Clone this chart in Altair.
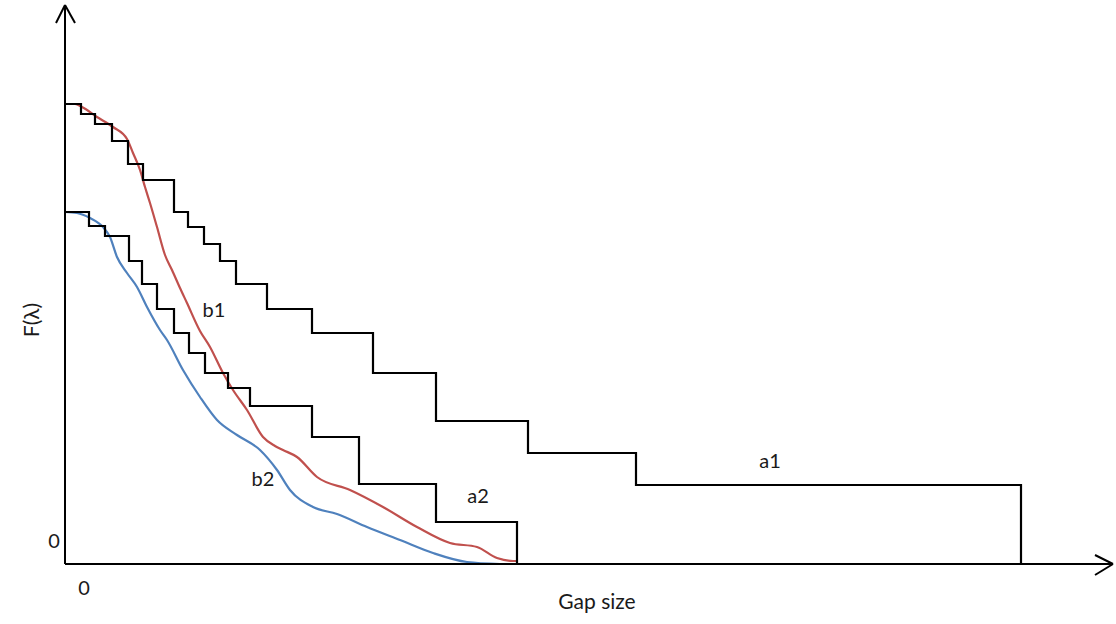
import altair as alt
import pandas as pd

# ---- data (gap size units on x, F(lambda) units on y) ----
a1_x = [0, 16, 30, 47, 63, 78, 109, 123, 139, 155, 171, 202, 247, 308, 371, 463, 571, 956, 956]
a1_y = [460, 450, 440, 423, 400, 384, 352, 337, 320, 303, 280, 255, 231, 191, 143, 111, 79, 79, 0]

a2_x = [0, 24, 40, 64, 77, 92, 109, 124, 140, 163, 185, 247, 294, 371, 452, 452]
a2_y = [352, 338, 328, 303, 280, 255, 231, 211, 191, 176, 158, 127, 80, 42, 42, 0]

b1_x = [0, 10, 17, 32, 48, 62, 68, 75, 80, 85, 92, 100, 107, 115, 122, 135, 145, 158, 168,
        182, 198, 210, 218, 232, 252, 285, 318, 352, 385, 412, 432, 448, 452]
b1_y = [460, 460, 457, 447, 437, 425, 411, 394, 377, 361, 337, 309, 294, 276, 261, 233, 217,
        191, 174, 154, 127, 118, 114, 107, 87, 74, 57, 37, 21, 17, 6, 3, 3]

b2_x = [0, 12, 25, 38, 45, 52, 62, 72, 82, 95, 102, 118, 135, 152, 172, 195, 212, 225, 248,
        272, 302, 335, 368, 402, 435]
b2_y = [352, 351, 346, 337, 327, 307, 291, 277, 257, 234, 224, 194, 167, 144, 129, 114, 94,
        74, 57, 50, 37, 24, 11, 2, 0]

labels = ["b1", "b2", "a2", "a1"]
label_x = [149, 198, 413, 705]
label_y = [253, 84, 67, 102]

W, H = 1048, 559
FONT = "Lato"

xs = alt.Scale(domain=[0, W], nice=False, zero=False)
ys = alt.Scale(domain=[0, H], nice=False, zero=False)


def df(x, y):
    return pd.DataFrame({"x": x, "y": y, "i": list(range(len(x)))})


def step(x, y):
    return alt.Chart(df(x, y)).mark_line(
        interpolate="step-after", color="black", strokeWidth=2.2
    ).encode(
        x=alt.X("x:Q", scale=xs, axis=None),
        y=alt.Y("y:Q", scale=ys, axis=None),
        order="i:Q",
    )


def curve(x, y, color):
    return alt.Chart(df(x, y)).mark_line(
        interpolate="monotone", color=color, strokeWidth=2.2
    ).encode(
        x=alt.X("x:Q", scale=xs, axis=None),
        y=alt.Y("y:Q", scale=ys, axis=None),
        order="i:Q",
    )


one = pd.DataFrame({"k": [0]})


def rule(x1, y1, x2, y2):
    return alt.Chart(one).mark_rule(color="black", strokeWidth=2).encode(
        x=alt.value(x1), y=alt.value(y1), x2=alt.value(x2), y2=alt.value(y2)
    )


def note(txt, x, y, angle=0, size=20):
    return alt.Chart(one).mark_text(
        text=txt, font=FONT, fontSize=size, color="#1a1a1a", angle=angle,
        align="center", baseline="middle"
    ).encode(x=alt.value(x), y=alt.value(y))


axes = [
    rule(0, 0, 0, H),            # y axis
    rule(0, H, W, H),            # x axis
    rule(0, 0, -9, 18), rule(0, 0, 10, 18),          # y arrow
    rule(W, H, W - 18, H - 9), rule(W, H, W - 18, H + 11),  # x arrow
]

lab = alt.Chart(pd.DataFrame({"t": labels, "x": label_x, "y": label_y})).mark_text(
    font=FONT, fontSize=20, color="#1a1a1a", align="center", baseline="middle"
).encode(
    x=alt.X("x:Q", scale=xs, axis=None),
    y=alt.Y("y:Q", scale=ys, axis=None),
    text="t:N",
)

chart = alt.layer(
    curve(b2_x, b2_y, "#4F81BD"),
    curve(b1_x, b1_y, "#C0504D"),
    step(a1_x, a1_y),
    step(a2_x, a2_y),
    *axes,
    lab,
    note("0", -11, 537),
    note("0", 19, 584),
    note("Gap size", 532, 598, size=21),
    note("F(λ)", -32, 315, angle=270, size=21),
).properties(
    width=W, height=H,
    padding={"left": 65, "top": 5, "right": 3, "bottom": 60},
    autosize=alt.AutoSizeParams(type="none"),
    background="white",
).configure_view(stroke=None)

chart.save("out.html", embed_options={"renderer": "svg", "actions": False})
